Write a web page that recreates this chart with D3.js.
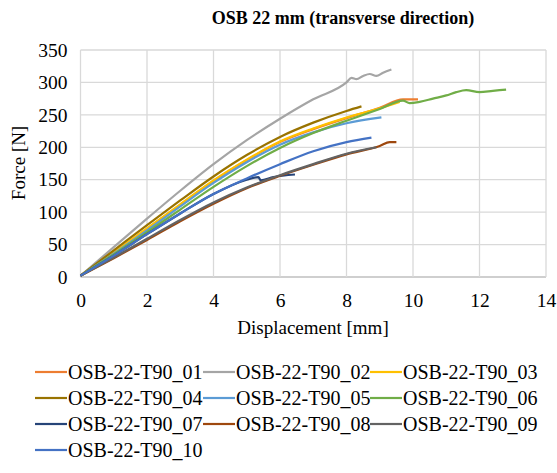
<!DOCTYPE html>
<html>
<head>
<meta charset="utf-8">
<script src="https://cdn.jsdelivr.net/npm/d3@7"></script>
<style>
 body { margin: 0; background: #fff; }
 svg text { font-family: "Liberation Serif", "Times New Roman", serif !important; fill: #000; }
</style>
</head>
<body>
<svg id="chart" width="557" height="473" font-family="Liberation Serif"></svg>
<script>
// series names + colours (excel-ish palette)
var names = ["OSB-22-T90_01","OSB-22-T90_02","OSB-22-T90_03","OSB-22-T90_04","OSB-22-T90_05",
             "OSB-22-T90_06","OSB-22-T90_07","OSB-22-T90_08","OSB-22-T90_09","OSB-22-T90_10"];
var colors = ["#ED7D31","#A5A5A5","#FFC000","#997300","#5B9BD5",
              "#70AD47","#264478","#9E480E","#636363","#4472C4"];

var xTicks = [0,2,4,6,8,10,12,14];
var yTicks = [0,50,100,150,200,250,300,350];

// displacement [mm] / force [N]
var x01 = [0,1,2,3,4,5,6,7,8,9,9.7,10.15];
var y01 = [2,37,74,111,148,180,208,228,245,261,274,274];
var x02 = [0,1,2,3,4,5,6,7,8,8.15,8.3,8.5,8.7,8.9,9.1,9.35];
var y02 = [2,46,90,133,174,211,244,274,300,307,305,310,313,310,315,320];
var x03 = [0,1,2,3,4,5,6,7,8,9,9.6];
var y03 = [2,38,75,112,149,181,209,229,246,260,270];
var x04 = [0,1,2,3,4,5,6,7,8,8.45];
var y04 = [2,41,80,118,155,188,216,238,256,263];
var x05 = [0,1,2,3,4,5,6,7,8,9.05];
var y05 = [2,36,72,109,145,177,204,223,237,246];
var x06 = [0,1,2,3,4,5,6,7,8,9,9.7,9.9,10.2,10.6,11.0,11.3,11.6,12.0,12.4,12.8];
var y06 = [2,35,69,104,139,171,199,222,241,259,272,268,270,275,280,285,288,285,287,289];
var x07 = [0,1,2,3,4,5,5.35,5.42,5.8,6.45];
var y07 = [2,33,66,98,128,150,154,149,154,158];
var x08 = [0,1,2,3,4,5,6,7,8,9,9.3,9.5];
var y08 = [2,29,57,86,113,137,156,173,189,202,208,208];
var x09 = [0,1,2,3,4,5,6,7,8,8.9];
var y09 = [2,30,59,88,115,138,157,174,190,200];
var x10 = [0,1,2,3,4,5,6,7,8,8.75];
var y10 = [2,33,66,98,128,152,174,194,208,215];

var xs = [x01,x02,x03,x04,x05,x06,x07,x08,x09,x10];
var ys = [y01,y02,y03,y04,y05,y06,y07,y08,y09,y10];

var svg = d3.select("#chart");
var plotL = 80.5, plotR = 546, plotT = 50, plotB = 277;

var x = d3.scaleLinear().domain([0,14]).range([plotL,plotR]);
var y = d3.scaleLinear().domain([0,350]).range([plotB,plotT]);

// title
svg.append("text")
  .attr("x", 343).attr("y", 24)
  .attr("text-anchor","middle")
  .style("font-size","18px").style("font-weight","bold")
  .text("OSB 22 mm (transverse  direction)");

// gridlines
var grid = svg.append("g");
grid.selectAll(".gy").data(yTicks).enter().append("line")
  .attr("x1", plotL).attr("x2", plotR)
  .attr("y1", function(d){ return y(d); }).attr("y2", function(d){ return y(d); })
  .attr("stroke", function(d){ return d == 0 ? "#bfbfbf" : "#d9d9d9"; })
  .attr("stroke-width", 1.3);
grid.selectAll(".gx").data(xTicks).enter().append("line")
  .attr("y1", plotT).attr("y2", plotB)
  .attr("x1", function(d){ return x(d); }).attr("x2", function(d){ return x(d); })
  .attr("stroke", "#d9d9d9").attr("stroke-width", 1.3);

// axes (labels only)
var xAxis = svg.append("g").attr("transform","translate(0," + plotB + ")")
  .call(d3.axisBottom(x).tickValues(xTicks).tickSize(0).tickPadding(16));
var yAxis = svg.append("g").attr("transform","translate(" + plotL + ",0)")
  .call(d3.axisLeft(y).tickValues(yTicks).tickSize(0).tickPadding(13));
[xAxis, yAxis].forEach(function(a){
  a.attr("font-family", "Liberation Serif").attr("font-size", 19);
  a.select(".domain").remove();
  a.selectAll("text").style("font-size","19.5px");
});

svg.append("text")
  .attr("x", 313).attr("y", 334)
  .attr("text-anchor","middle").style("font-size","19px")
  .text("Displacement [mm]");
svg.append("text")
  .attr("transform","translate(25,163) rotate(-90)")
  .attr("text-anchor","middle").style("font-size","19px")
  .text("Force [N]");

// curves
var line = d3.line()
  .x(function(d){ return x(d[0]); })
  .y(function(d){ return y(d[1]); })
  .curve(d3.curveMonotoneX);

var series = names.map(function(n,i){
  return { name: n, color: colors[i], pts: d3.zip(xs[i], ys[i]) };
});

svg.append("g").selectAll("path").data(series).enter().append("path")
  .attr("d", function(d){ return line(d.pts); })
  .attr("fill","none")
  .attr("stroke", function(d){ return d.color; })
  .attr("stroke-width", 2.2)
  .attr("stroke-linejoin","round");

// legend
var colX = [35, 203, 370];
var rowY = [372, 398, 424, 450];
var leg = svg.append("g").selectAll("g").data(series).enter().append("g")
  .attr("transform", function(d,i){ return "translate(" + colX[i % 3] + "," + rowY[Math.floor(i / 3)] + ")"; });
leg.append("line")
  .attr("x1",0).attr("x2",32).attr("y1",0).attr("y2",0)
  .attr("stroke", function(d){ return d.color; }).attr("stroke-width", 2.2);
leg.append("text")
  .attr("x", 33).attr("y", 6.5)
  .style("font-size","20px")
  .text(function(d){ return d.name; });
</script>
</body>
</html>
